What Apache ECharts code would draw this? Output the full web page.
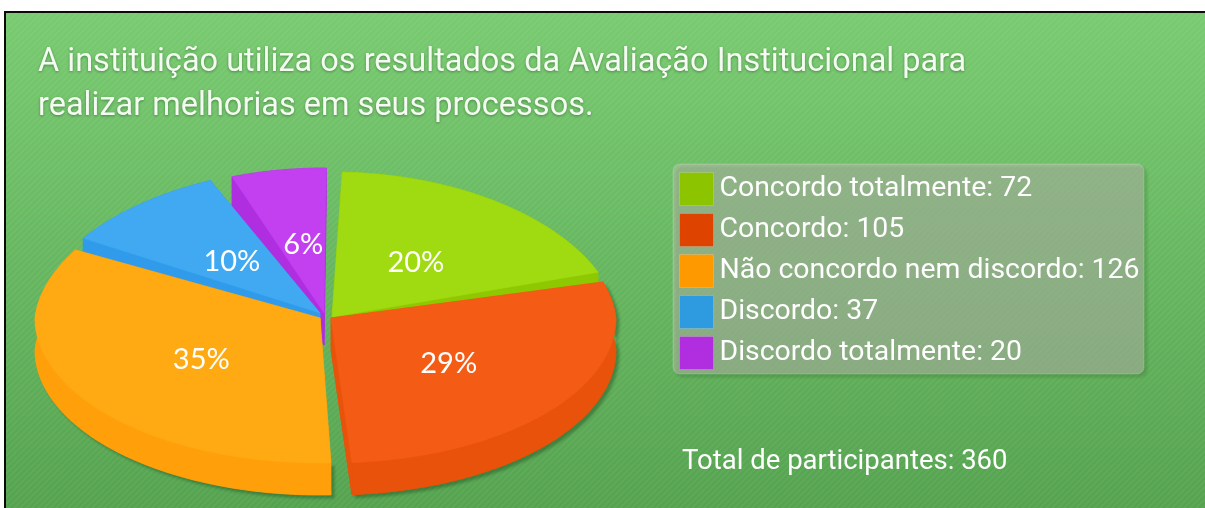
<!DOCTYPE html>
<html><head><meta charset="utf-8">
<style>html,body{margin:0;padding:0;background:#fff}#c{width:1205px;height:508px}</style>
<script src="https://cdn.jsdelivr.net/npm/echarts@6/dist/echarts.min.js"></script>
</head><body><div id="c"></div>
<script>
const titleText = 'A instituição utiliza os resultados da Avaliação Institucional para\nrealizar melhorias em seus processos.';
const totalText = 'Total de participantes: 360';
const categories = ['Concordo totalmente','Concordo','Não concordo nem discordo','Discordo','Discordo totalmente'];
const values = [72,105,126,37,20];
const topColors = ['#a0da10','#f45c15','#ffaa12','#41a9f2','#c240f0'];
const sideColors = ['#8dc800','#e8520b','#ff9f0a','#2f9bea','#af2fe0'];
const swatchColors = ['#8cc400','#de4400','#ff9900','#2e9be0','#b02de0'];
// Pie projection, per-slice explode offset and per-slice angular padding (like a pie's selectedOffset / padAngle)
const pie = {cx:326, cy:316, rx:285, ry:145, depth:32, backNarrow:0.06};
const explode = [[6,1],[5,2],[-6,2],[-6,-3],[-2,-3]];
const padStart = [2.2,3.6,0.8,-2,0];
const padEnd = [0,-1.2,-5,-4,0.5];
const drawOrder = [4,3,0,2,1];
const total = values.reduce((a,b)=>a+b,0);
const labelFont = 'Lato';
const techFont = 'Roboto';

function sliceRender(idx){
  return function(params, api){
    const v = api.value(0);
    let before = 0; for(let i=0;i<idx;i++) before += values[i];
    const a0 = before/total*360 + padStart[idx], a1 = (before+v)/total*360 + padEnd[idx];
    const ax = pie.cx + explode[idx][0], ay = pie.cy + explode[idx][1];
    const project = (t,f)=>{
      const u=Math.sin(t), w=-Math.cos(t);
      const narrow = w<0 ? 1+pie.backNarrow*w : 1;
      return [ax+f*pie.rx*u*narrow, ay+f*pie.ry*w];
    };
    const rim = [];
    const n = Math.max(8, Math.ceil(a1-a0));
    for(let i=0;i<=n;i++) rim.push(project((a0+(a1-a0)*i/n)*Math.PI/180,1));
    const d = pie.depth;
    const down = p=>[p[0],p[1]+d];
    const apex=[ax,ay];
    const first=rim[0], last=rim[rim.length-1];
    const side = {fill:sideColors[idx], stroke:sideColors[idx], lineWidth:0.5};
    const shadow = (idx===1||idx===2) ? {shadowColor:'rgba(30,80,30,0.45)',shadowBlur:3,shadowOffsetX:3,shadowOffsetY:3} : {};
    const lp = project((a0+a1)/2*Math.PI/180,0.5);
    return {type:'group',children:[
      {type:'polygon',shape:{points:rim.concat(rim.map(down).reverse())},style:Object.assign({},side,shadow)},
      {type:'polygon',shape:{points:[apex].concat(rim).map(down)},style:side},
      {type:'polygon',shape:{points:[apex,first,down(first),down(apex)]},style:side},
      {type:'polygon',shape:{points:[apex,last,down(last),down(apex)]},style:side},
      {type:'polygon',shape:{points:[apex].concat(rim)},style:{fill:topColors[idx],stroke:topColors[idx],lineWidth:0.5}},
      {type:'text',z2:10,style:{
        x:lp[0]+2, y:lp[1]+3,
        text:Math.round(v/total*100)+'%', fill:'#fff',
        font:'29px '+labelFont, align:'center', verticalAlign:'middle'}}
    ]};
  };
}
function stripes(){
  const c=document.createElement('canvas');c.width=c.height=6;
  const g=c.getContext('2d');g.strokeStyle='rgba(255,255,255,0.05)';g.lineWidth=2;
  g.beginPath();g.moveTo(-1,7);g.lineTo(7,-1);g.moveTo(-4,4);g.lineTo(4,-4);g.moveTo(2,10);g.lineTo(10,2);g.stroke();
  return c;
}
const series = drawOrder.map((idx,k)=>({
  type:'custom',name:categories[idx],coordinateSystem:'none',z:2+k,
  itemStyle:{color:swatchColors[idx]},
  data:[[values[idx]]],renderItem:sliceRender(idx),silent:true,animation:false
}));
const chart = echarts.init(document.getElementById('c'),null,{renderer:'canvas'});
chart.setOption({
  animation:false,
  backgroundColor:'#ffffff',
  title:{text:titleText,left:38,top:41,padding:0,textStyle:{color:'#f4fbf1',fontFamily:techFont,fontSize:32.5,fontWeight:400,lineHeight:44,
    textShadowColor:'rgba(40,90,40,0.6)',textShadowBlur:3,textShadowOffsetY:1}},
  legend:{orient:'vertical',left:679,top:172,itemWidth:34,itemHeight:33,itemGap:7,padding:0,icon:'rect',selectedMode:false,
    data:categories,
    formatter:n=>n+': '+values[categories.indexOf(n)],
    itemStyle:{borderColor:'rgba(255,255,255,0.18)',borderWidth:1},
    textStyle:{color:'#fff',fontFamily:techFont,fontWeight:400,fontSize:28.4,padding:[9,0,0,1]}},
  graphic:[
    {type:'rect',z:0,silent:true,shape:{x:5,y:12,width:1200,height:496},
      style:{fill:new echarts.graphic.LinearGradient(0,0,0,1,[{offset:0,color:'#78cb70'},{offset:1,color:'#54a34f'}])}},
    {type:'rect',z:0,silent:true,shape:{x:5,y:12,width:1200,height:496},style:{fill:{image:stripes(),repeat:'repeat'}}},
    {type:'polyline',z:1,silent:true,shape:{points:[[5,508],[5,12],[1205,12]]},style:{stroke:'#0a0a0a',lineWidth:2,fill:null}},
    {type:'rect',z:1,silent:true,shape:{x:673,y:164,width:471,height:210,r:7},
      style:{fill:'rgba(205,190,190,0.45)',stroke:'rgba(255,255,255,0.18)',lineWidth:1,
        shadowColor:'rgba(30,80,30,0.45)',shadowBlur:3,shadowOffsetX:3,shadowOffsetY:3}},
    {type:'text',z:3,silent:true,style:{x:682,y:462,text:totalText,fill:'#fff',font:'400 27.5px '+techFont,verticalAlign:'middle'}}
  ],
  series
});
</script></body></html>
